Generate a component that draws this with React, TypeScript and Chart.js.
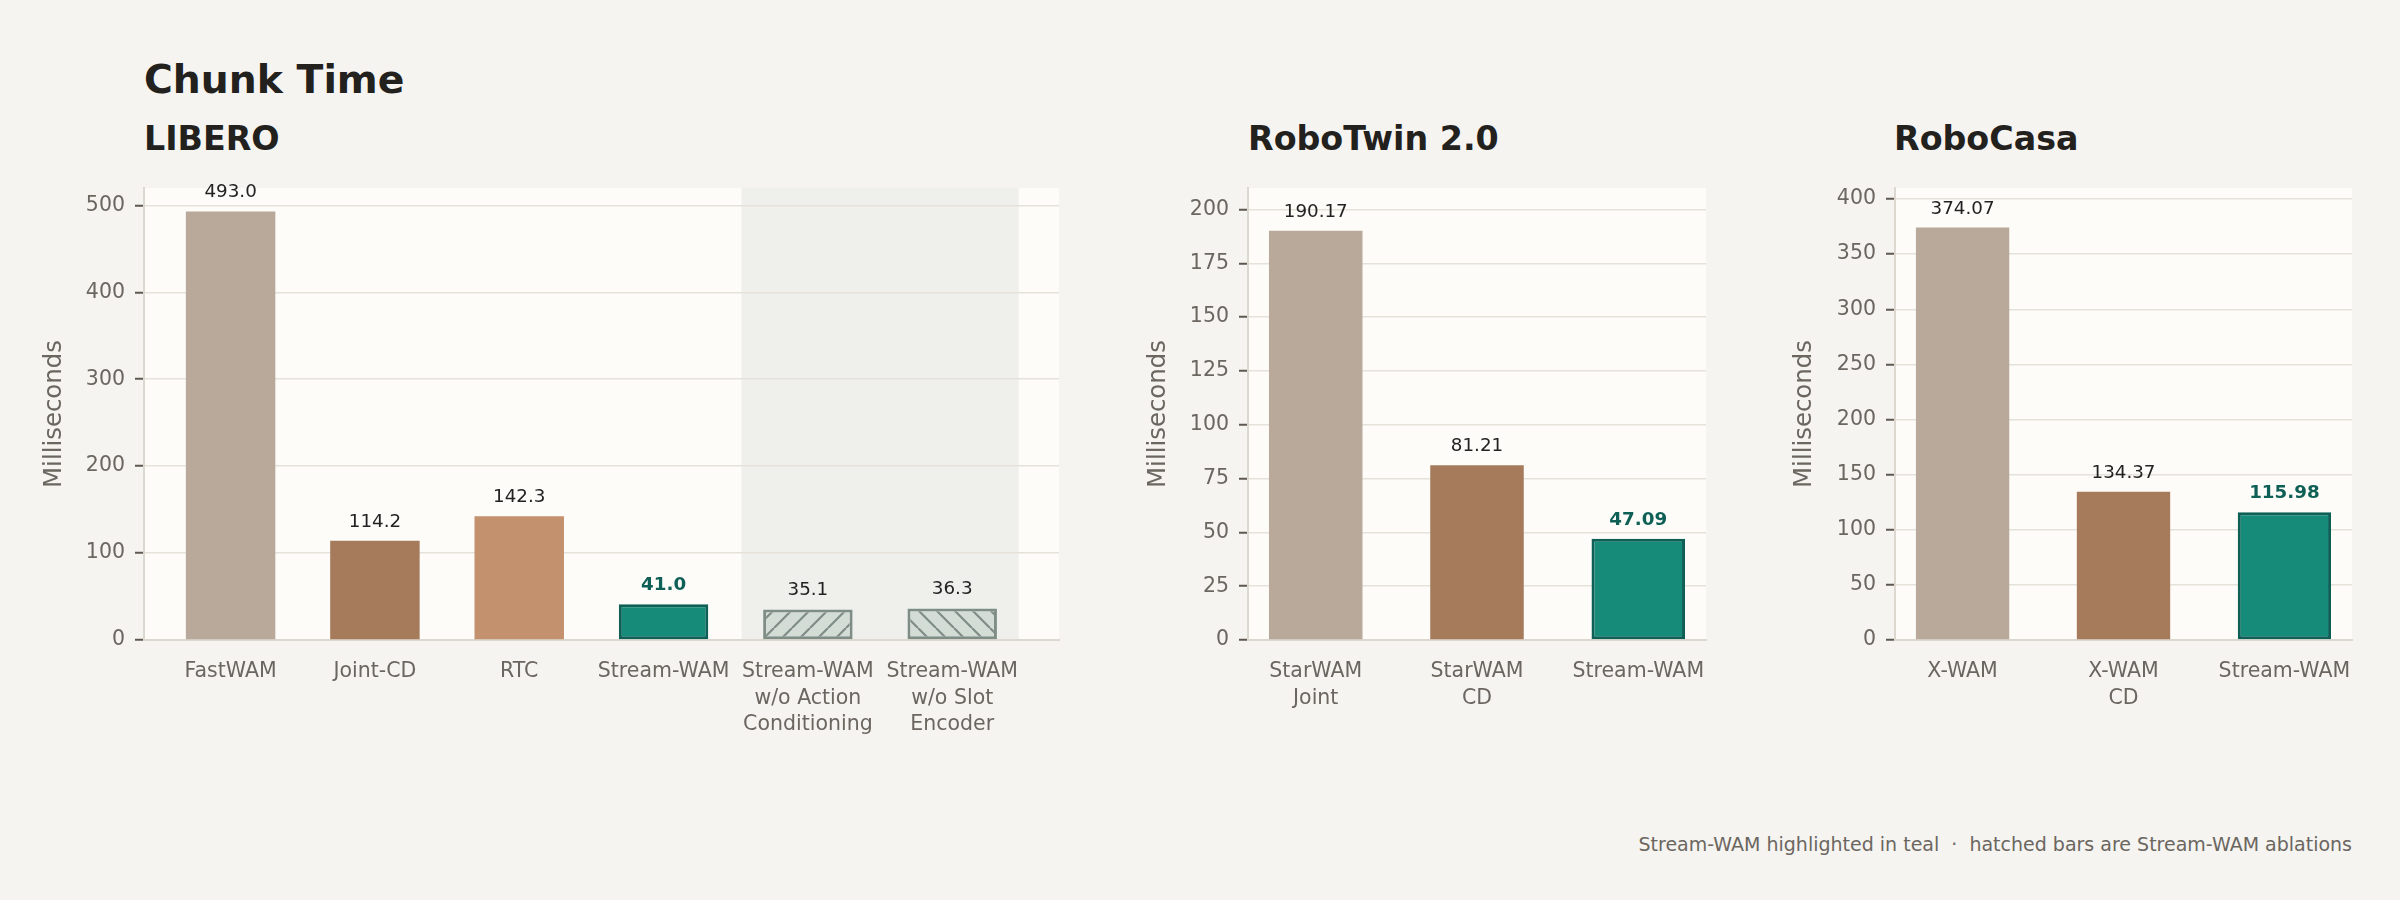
import React, { useEffect, useRef } from "react";
import { Chart, registerables } from "chart.js";

Chart.register(...registerables);

// ---------- data ----------
const LIBERO_LABELS: string[][] = [
  ["FastWAM"],
  ["Joint-CD"],
  ["RTC"],
  ["Stream-WAM"],
  ["Stream-WAM", "w/o Action", "Conditioning"],
  ["Stream-WAM", "w/o Slot", "Encoder"],
];
const LIBERO_VALUES = [493.0, 114.2, 142.3, 41.0, 35.1, 36.3];
const LIBERO_KINDS = ["base0", "base1", "base2", "stream", "hatchR", "hatchL"];
const LIBERO_TICKS = [0, 100, 200, 300, 400, 500];

const ROBOTWIN_LABELS: string[][] = [["StarWAM", "Joint"], ["StarWAM", "CD"], ["Stream-WAM"]];
const ROBOTWIN_VALUES = [190.17, 81.21, 47.09];
const ROBOTWIN_KINDS = ["base0", "base1", "stream"];
const ROBOTWIN_TICKS = [0, 25, 50, 75, 100, 125, 150, 175, 200];

const ROBOCASA_LABELS: string[][] = [["X-WAM"], ["X-WAM", "CD"], ["Stream-WAM"]];
const ROBOCASA_VALUES = [374.07, 134.37, 115.98];
const ROBOCASA_KINDS = ["base0", "base1", "stream"];
const ROBOCASA_TICKS = [0, 50, 100, 150, 200, 250, 300, 350, 400];

// ablation shaded region (in category units)
const ABLATION_SPAN = [3.54, 5.46];

// ---------- styles ----------
const FONT = "'DejaVu Sans', 'Liberation Sans', sans-serif";
const PAGE_BG = "#f5f4f0";
const PLOT_BG = "#fdfcf8";
const SHADE_BG = "#eff0ec";
const GRID = "#e6e1d9";
const SPINE = "#ddd8cf";
const TICK_MARK = "#5e5850";
const TEXT_GRAY = "#6b6660";
const TITLE_COLOR = "#23211d";
const TEAL = "#178b7a";
const TEAL_DARK = "#0e5f56";
const HATCH_FILL = "#d4dcd6";
const HATCH_LINE = "#7e8e86";
const BASE_COLORS: Record<string, string> = {
  base0: "#b9a99a",
  base1: "#a67b5c",
  base2: "#c4916e",
};

function makeHatch(dir: "R" | "L"): CanvasPattern | string {
  const s = 18;
  const c = document.createElement("canvas");
  c.width = s;
  c.height = s;
  const g = c.getContext("2d");
  if (!g) return HATCH_FILL;
  g.fillStyle = HATCH_FILL;
  g.fillRect(0, 0, s, s);
  g.strokeStyle = HATCH_LINE;
  g.lineWidth = 2.2;
  g.beginPath();
  for (const k of [-s, 0, s]) {
    if (dir === "R") {
      g.moveTo(k, s);
      g.lineTo(k + s, 0);
    } else {
      g.moveTo(k, 0);
      g.lineTo(k + s, s);
    }
  }
  g.stroke();
  const p = g.createPattern(c, "repeat");
  return p || HATCH_FILL;
}

interface PanelProps {
  left: number;
  top: number;
  width: number;
  height: number;
  yWidth: number;
  padTop: number;
  padRight: number;
  xHeight: number;
  titlePad: number;
  labels: string[][];
  values: number[];
  kinds: string[];
  ticks: number[];
  yMax: number;
  xMin: number;
  xMax: number;
  barPct: number;
  decimals: number;
  span?: number[];
}

function Panel(props: PanelProps) {
  const ref = useRef<HTMLCanvasElement | null>(null);
  useEffect(() => {
    const canvas = ref.current;
    if (!canvas) return;
    const hatchR = makeHatch("R");
    const hatchL = makeHatch("L");
    const fill = props.kinds.map((k) =>
      k === "stream" ? TEAL : k === "hatchR" ? hatchR : k === "hatchL" ? hatchL : BASE_COLORS[k]
    );
    const border = props.kinds.map((k) =>
      k === "stream" ? TEAL_DARK : k.startsWith("hatch") ? HATCH_LINE : "rgba(0,0,0,0)"
    );
    const bw = props.kinds.map((k) => (k === "stream" ? 3 : k.startsWith("hatch") ? 3 : 0));

    const bgPlugin = {
      id: "plotBg",
      beforeDraw(chart: any) {
        const { ctx, chartArea } = chart;
        ctx.save();
        ctx.fillStyle = PLOT_BG;
        ctx.fillRect(chartArea.left, chartArea.top, chartArea.right - chartArea.left, chartArea.bottom - chartArea.top);
        if (props.span) {
          const xs = chart.scales.x;
          const x0 = xs.getPixelForValue(props.span[0]);
          const x1 = xs.getPixelForValue(props.span[1]);
          ctx.fillStyle = SHADE_BG;
          ctx.fillRect(x0, chartArea.top, x1 - x0, chartArea.bottom - chartArea.top);
        }
        ctx.restore();
      },
    };

    const valuePlugin = {
      id: "valueLabels",
      afterDatasetsDraw(chart: any) {
        const { ctx } = chart;
        const meta = chart.getDatasetMeta(0);
        ctx.save();
        ctx.textAlign = "center";
        ctx.textBaseline = "alphabetic";
        meta.data.forEach((el: any, i: number) => {
          const isStream = props.kinds[i] === "stream";
          ctx.font = `${isStream ? "bold " : ""}18.3px ${FONT}`;
          ctx.fillStyle = isStream ? TEAL_DARK : "#222222";
          ctx.fillText(props.values[i].toFixed(props.decimals), el.x, el.y - 14);
        });
        ctx.restore();
      },
    };

    const chart = new Chart(canvas, {
      type: "bar",
      data: {
        datasets: [
          {
            data: props.values.map((v, i) => ({ x: i, y: v })),
            backgroundColor: fill as any,
            borderColor: border,
            borderWidth: bw,
            borderSkipped: false,
            barPercentage: props.barPct,
            categoryPercentage: 1,
          } as any,
        ],
      },
      options: {
        responsive: false,
        animation: false,
        devicePixelRatio: 1,
        layout: { padding: { top: props.padTop, right: props.padRight, left: 0, bottom: 0 } },
        plugins: { legend: { display: false }, tooltip: { enabled: false }, title: { display: false } },
        scales: {
          x: {
            type: "linear",
            min: props.xMin,
            max: props.xMax,
            offset: false,
            afterBuildTicks: (s: any) => {
              s.ticks = props.labels.map((_, i) => ({ value: i }));
            },
            afterFit: (s: any) => {
              s.height = props.xHeight;
            },
            grid: { display: false, drawTicks: false },
            border: { display: true, color: SPINE, width: 2 },
            ticks: {
              autoSkip: false,
              maxRotation: 0,
              minRotation: 0,
              padding: 18.5,
              color: TEXT_GRAY,
              font: { family: FONT, size: 20.5, lineHeight: 1.3 },
              callback: (v: any) => props.labels[Math.round(Number(v))] || "",
            },
          },
          y: {
            type: "linear",
            min: 0,
            max: props.yMax,
            afterBuildTicks: (s: any) => {
              s.ticks = props.ticks.map((v) => ({ value: v }));
            },
            afterFit: (s: any) => {
              s.width = props.yWidth;
            },
            grid: {
              color: GRID,
              lineWidth: 1.5,
              drawTicks: true,
              tickLength: 9,
              tickColor: TICK_MARK,
              tickWidth: 2,
            },
            border: { display: true, color: SPINE, width: 2 },
            ticks: {
              padding: 10,
              color: TEXT_GRAY,
              font: { family: FONT, size: 20.5 },
              callback: (v: any) => String(v),
            },
            title: {
              display: true,
              text: "Milliseconds",
              color: TEXT_GRAY,
              font: { family: FONT, size: 24.4 },
              padding: { top: props.titlePad, bottom: 0 },
            },
          },
        },
      } as any,
      plugins: [bgPlugin, valuePlugin],
    });
    return () => chart.destroy();
  }, []);

  return (
    <canvas
      ref={ref}
      width={props.width}
      height={props.height}
      style={{
        position: "absolute",
        left: props.left,
        top: props.top,
        width: props.width,
        height: props.height,
      }}
    />
  );
}

const titleStyle = (left: number, top: number, size: number): React.CSSProperties => ({
  position: "absolute",
  left,
  top,
  margin: 0,
  fontFamily: FONT,
  fontWeight: "bold",
  fontSize: size,
  lineHeight: 1,
  color: TITLE_COLOR,
  whiteSpace: "nowrap",
});

export default function App() {
  return (
    <div
      style={{
        position: "absolute",
        left: 0,
        top: 0,
        width: 2400,
        height: 900,
        background: PAGE_BG,
        overflow: "hidden",
      }}
    >
      <div style={titleStyle(144, 60, 39.3)}>Chunk Time</div>
      <div style={titleStyle(144, 122, 33.3)}>LIBERO</div>
      <div style={titleStyle(1248, 122, 33.3)}>RoboTwin 2.0</div>
      <div style={titleStyle(1894, 122, 33.3)}>RoboCasa</div>

      <Panel
        left={0}
        top={160}
        width={1100}
        height={600}
        yWidth={144}
        padTop={28}
        padRight={41}
        xHeight={120}
        titlePad={40.5}
        labels={LIBERO_LABELS}
        values={LIBERO_VALUES}
        kinds={LIBERO_KINDS}
        ticks={LIBERO_TICKS}
        yMax={520}
        xMin={-0.6}
        xMax={5.74}
        barPct={0.62}
        decimals={1}
        span={ABLATION_SPAN}
      />
      <Panel
        left={1100}
        top={160}
        width={650}
        height={600}
        yWidth={148}
        padTop={28}
        padRight={44}
        xHeight={120}
        titlePad={44}
        labels={ROBOTWIN_LABELS}
        values={ROBOTWIN_VALUES}
        kinds={ROBOTWIN_KINDS}
        ticks={ROBOTWIN_TICKS}
        yMax={210}
        xMin={-0.42}
        xMax={2.42}
        barPct={0.58}
        decimals={2}
      />
      <Panel
        left={1750}
        top={160}
        width={650}
        height={600}
        yWidth={145}
        padTop={28}
        padRight={48}
        xHeight={120}
        titlePad={40}
        labels={ROBOCASA_LABELS}
        values={ROBOCASA_VALUES}
        kinds={ROBOCASA_KINDS}
        ticks={ROBOCASA_TICKS}
        yMax={410}
        xMin={-0.42}
        xMax={2.42}
        barPct={0.58}
        decimals={2}
      />

      <div
        style={{
          position: "absolute",
          right: 48,
          top: 835,
          fontFamily: FONT,
          fontSize: 19,
          lineHeight: 1,
          color: TEXT_GRAY,
          whiteSpace: "pre",
        }}
      >
        {"Stream-WAM highlighted in teal  \u00b7  hatched bars are Stream-WAM ablations"}
      </div>
    </div>
  );
}
